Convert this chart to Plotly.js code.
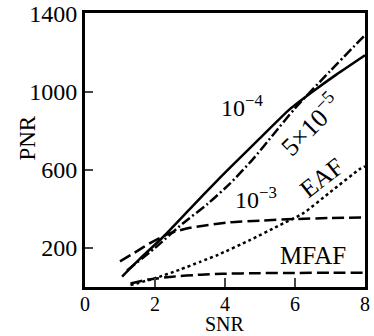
<!DOCTYPE html>
<html>
<head>
<meta charset="utf-8">
<script src="https://cdn.plot.ly/plotly-3.0.1.min.js"></script>
<style>html,body{margin:0;padding:0;background:#fff;}#chart{width:374px;height:336px;}</style>
</head>
<body>
<div id="chart"></div>
<script>
// Curve 10^-4 (solid)
const snr_1e4 = [1.06, 1.6, 2.23, 3.0, 3.77, 4.34, 5.0, 5.86, 6.5, 7.2, 8.0];
const pnr_1e4 = [53, 150, 256, 400, 544, 646, 762, 912, 1000, 1090, 1187];
// Curve 5x10^-5 (dash-dot)
const snr_5e5 = [1.2, 2.0, 2.8, 3.5, 4.14, 4.8, 5.4, 6.0, 7.0, 8.0];
const pnr_5e5 = [85, 200, 326, 425, 529, 655, 785, 915, 1105, 1290];
// Curve 10^-3 (dashed)
const snr_1e3 = [1.0, 1.5, 1.86, 2.43, 3.0, 4.14, 5.0, 6.0, 7.0, 8.0];
const pnr_1e3 = [131, 185, 225, 276, 303, 331, 340, 348, 353, 356];
// EAF (dotted)
const snr_eaf = [1.3, 2.0, 2.71, 3.29, 3.8, 4.71, 5.5, 6.23, 7.0, 7.86, 8.0];
const pnr_eaf = [10, 45, 89, 129, 165, 240, 311, 377, 485, 605, 618];
// MFAF (dashed)
const snr_mfaf = [1.3, 1.8, 2.5, 3.3, 3.94, 5.0, 6.0, 7.0, 8.0];
const pnr_mfaf = [18, 38, 53, 63, 68, 71, 72, 73, 73];

const xTicks = [0, 2, 4, 6, 8];
const yTicks = [200, 600, 1000, 1400];

const FONT = "Liberation Serif, Times New Roman, serif";
const line = (x, y, dash, w) => ({
  x, y, type: 'scatter', mode: 'lines',
  line: {color: '#000', width: w || 2.5, dash: dash, shape: 'spline', smoothing: 0.6},
  hoverinfo: 'skip', showlegend: false
});

const data = [
  line(snr_1e4, pnr_1e4, 'solid'),
  line(snr_5e5, pnr_5e5, '10px,3px,2px,3px'),
  line(snr_1e3, pnr_1e3, '12px,5px'),
  line(snr_eaf, pnr_eaf, 'dot', 2.5),
  line(snr_mfaf, pnr_mfaf, '12px,5px')
];

const ann = (text, x, y, angle, size) => ({
  text, x, y, xref: 'x', yref: 'y', showarrow: false, textangle: angle || 0,
  font: {family: FONT, size: size || 24, color: '#000'}
});

const layout = {
  width: 374, height: 336,
  margin: {l: 85, r: 9, t: 13, b: 49},
  paper_bgcolor: '#fff', plot_bgcolor: '#fff',
  font: {family: FONT, color: '#000'},
  xaxis: {
    range: [0, 8], tickvals: xTicks, ticks: 'inside', ticklen: 9, tickwidth: 2,
    showline: true, linewidth: 3, linecolor: '#000', mirror: true,
    showgrid: false, zeroline: false, ticklabelstandoff: -3,
    tickfont: {family: FONT, size: 20, color: '#000'}
  },
  yaxis: {
    range: [0, 1403], tickvals: yTicks, ticks: 'inside', ticklen: 8, tickwidth: 2,
    showline: true, linewidth: 3, linecolor: '#000', mirror: true,
    showgrid: false, zeroline: false,
    tickfont: {family: FONT, size: 24, color: '#000'}
  },
  annotations: [
    {text: 'PNR', xref: 'paper', yref: 'paper', x: -0.207, y: 0.542, showarrow: false,
     xanchor: 'center', yanchor: 'middle',
     textangle: -90, font: {family: FONT, size: 23, color: '#000'}},
    {text: 'SNR', xref: 'paper', yref: 'paper', x: 0.5, y: -0.178, showarrow: false,
     xanchor: 'center', yanchor: 'bottom', borderpad: 0,
     font: {family: FONT, size: 20, color: '#000'}},
    ann('10<sup>−4</sup>', 4.49, 925),
    ann('5×10<sup>−5</sup>', 6.43, 830, -45, 26),
    ann('EAF', 6.77, 560, -38, 25),
    ann('10<sup>−3</sup>', 4.89, 455),
    ann('MFAF', 6.51, 163, 0, 25)
  ]
};

Plotly.newPlot('chart', data, layout, {displayModeBar: false, staticPlot: true});
</script>
</body>
</html>
